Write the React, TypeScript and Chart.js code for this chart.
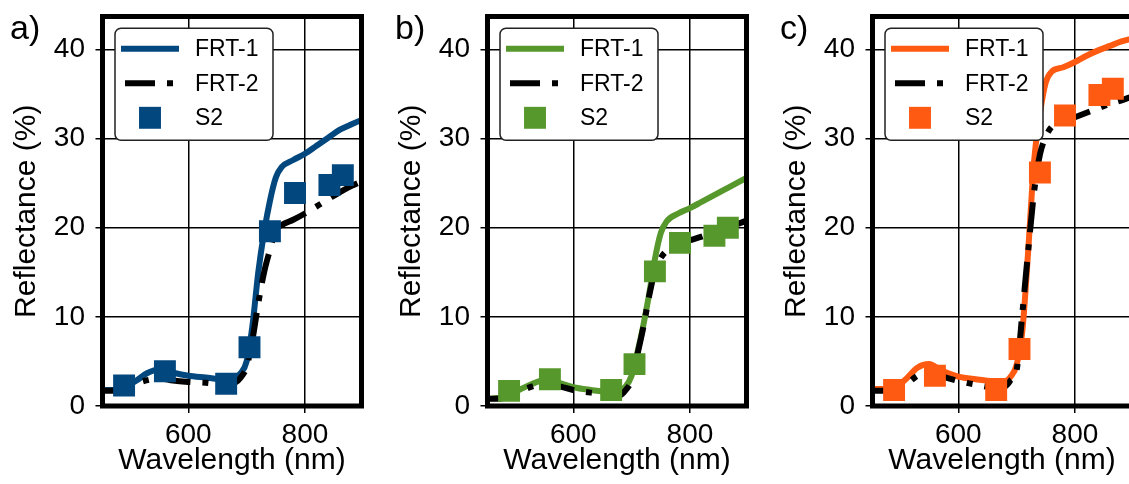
import React, { useEffect, useRef } from 'react';
import { Chart, registerables } from 'chart.js';

Chart.register(...registerables);

// ---------- data ----------
const WAVELENGTH = [453, 470, 490, 510, 530, 550, 570, 600, 630, 660, 680, 690, 700, 710, 720, 730, 740, 750, 760, 780, 800, 820, 840, 860, 880, 897];
const S2_BANDS = [490, 560, 665, 705, 740, 783, 842, 865];

const FRT1_A = [1.8, 1.8, 2.1, 2.8, 3.7, 4.1, 3.8, 3.4, 3.2, 3.0, 3.2, 3.7, 5.0, 9.0, 15.0, 19.5, 23.0, 25.6, 26.8, 27.6, 28.3, 29.2, 30.1, 31.0, 31.6, 32.1];
const FRT2_A = [1.7, 1.7, 2.0, 2.5, 2.9, 3.1, 2.9, 2.7, 2.6, 2.4, 2.6, 3.2, 4.4, 7.4, 11.5, 15.0, 17.5, 19.8, 20.3, 20.9, 21.6, 22.4, 23.2, 24.0, 24.7, 25.2];
const S2_A = [2.3, 3.9, 2.5, 6.6, 19.6, 23.9, 24.8, 25.9];

const FRT1_B = [0.8, 0.9, 1.2, 1.9, 2.5, 2.9, 2.7, 2.1, 1.8, 1.6, 1.7, 2.2, 3.4, 6.0, 9.0, 12.5, 16.5, 19.4, 20.7, 21.6, 22.2, 22.9, 23.6, 24.3, 25.0, 25.6];
const FRT2_B = [0.8, 0.8, 1.1, 1.7, 2.2, 2.5, 2.3, 1.8, 1.5, 1.3, 1.2, 1.8, 2.9, 5.8, 8.8, 12.3, 15.2, 16.6, 17.4, 18.2, 18.6, 19.0, 19.5, 20.0, 20.4, 20.8];
const S2_B = [1.7, 3.0, 1.8, 4.7, 15.1, 18.3, 19.1, 20.0];

const FRT1_C = [1.9, 1.9, 2.0, 3.0, 4.3, 4.7, 4.0, 3.3, 3.0, 2.8, 2.8, 3.3, 4.6, 8.5, 17.5, 27.5, 32.8, 36.3, 37.5, 38.0, 38.6, 39.3, 39.9, 40.4, 40.9, 41.2];
const FRT2_C = [1.7, 1.7, 1.8, 2.4, 3.4, 4.0, 3.4, 2.8, 2.4, 2.1, 2.2, 2.9, 4.0, 10.5, 17.5, 24.0, 28.2, 30.2, 31.3, 31.9, 32.4, 32.9, 33.4, 33.9, 34.3, 34.7];
const S2_C = [1.8, 3.4, 1.8, 6.4, 26.2, 32.6, 34.9, 35.6];

const X_TICKS = [600, 800];
const Y_TICKS = [0, 10, 20, 30, 40];
const SERIES_LABELS = ['FRT-1', 'FRT-2', 'S2'];
const PANEL_LABELS = ['a)', 'b)', 'c)'];
const PANEL_COLORS = ['#03477f', '#57982d', '#ff5a12'];
const X_TITLE = 'Wavelength (nm)';
const Y_TITLE = 'Reflectance (%)';

const PANELS = [
  { frt1: FRT1_A, frt2: FRT2_A, s2: S2_A },
  { frt1: FRT1_B, frt2: FRT2_B, s2: S2_B },
  { frt1: FRT1_C, frt2: FRT2_C, s2: S2_C },
];

const FONT = "'Liberation Sans', Arial, Helvetica, sans-serif";
const CANVAS_W = 385;
const CANVAS_H = 484;

// ---------- plugins ----------
const legendPlugin = {
  id: 'boxLegend',
  afterDatasetsDraw(chart: any) {
    const { ctx, chartArea: ca } = chart;
    const bx = ca.left + 12.5;
    const by = ca.top + 11.8;
    const bw = 158;
    const bh = 112;
    ctx.save();
    ctx.beginPath();
    ctx.roundRect(bx, by, bw, bh, 6);
    ctx.fillStyle = '#ffffff';
    ctx.fill();
    ctx.lineWidth = 1.5;
    ctx.strokeStyle = '#222222';
    ctx.stroke();
    SERIES_LABELS.forEach((lab, i) => {
      const ds: any = chart.data.datasets.find((d: any) => d.label === lab);
      if (!ds) return;
      const cy = by + 20.5 + i * 34.5;
      if (ds.showLine === false) {
        const side = ds.pointRadius * Math.SQRT2;
        ctx.fillStyle = ds.pointBackgroundColor;
        ctx.fillRect(bx + 35 - side / 2, cy - side / 2, side, side);
      } else {
        ctx.beginPath();
        ctx.lineWidth = ds.borderWidth;
        ctx.strokeStyle = ds.borderColor;
        ctx.lineCap = 'butt';
        if (ds.borderDash && ds.borderDash.length) {
          ctx.setLineDash(ds.borderDash);
          ctx.moveTo(bx + 10, cy);
          ctx.lineTo(bx + 58, cy);
        } else {
          ctx.setLineDash([]);
          ctx.moveTo(bx + 6, cy);
          ctx.lineTo(bx + 64, cy);
        }
        ctx.stroke();
        ctx.setLineDash([]);
      }
      ctx.fillStyle = '#000';
      ctx.font = `23px ${FONT}`;
      ctx.textBaseline = 'middle';
      ctx.textAlign = 'left';
      ctx.fillText(ds.label, bx + 80, cy + 1);
    });
    ctx.restore();
  },
};

const framePlugin = {
  id: 'frameAndLabel',
  afterDraw(chart: any, _args: any, opts: any) {
    const { ctx, chartArea: ca } = chart;
    ctx.save();
    ctx.lineWidth = 5;
    ctx.strokeStyle = '#000';
    ctx.strokeRect(ca.left, ca.top, ca.right - ca.left, ca.bottom - ca.top);
    if (opts && opts.text) {
      ctx.fillStyle = '#000';
      ctx.font = `34px ${FONT}`;
      ctx.textBaseline = 'alphabetic';
      ctx.textAlign = 'left';
      ctx.fillText(opts.text, 10, 38.5);
    }
    ctx.restore();
  },
};

// ---------- component ----------
function Panel({ idx }: { idx: number }) {
  const ref = useRef<HTMLCanvasElement>(null);
  useEffect(() => {
    const p = PANELS[idx];
    const color = PANEL_COLORS[idx];
    const chart = new Chart(ref.current as HTMLCanvasElement, {
      type: 'line',
      data: {
        datasets: [
          {
            label: SERIES_LABELS[2],
            data: S2_BANDS.map((x, i) => ({ x, y: p.s2[i] })),
            showLine: false,
            pointStyle: 'rect',
            pointRadius: 15.5,
            pointBorderWidth: 0,
            pointBackgroundColor: color,
            backgroundColor: color,
            borderColor: color,
            order: 0,
          } as any,
          {
            label: SERIES_LABELS[1],
            data: WAVELENGTH.map((x, i) => ({ x, y: p.frt2[i] })),
            borderColor: '#000000',
            borderWidth: 6,
            borderDash: [30, 12, 6, 12],
            borderCapStyle: 'butt',
            pointRadius: 0,
            cubicInterpolationMode: 'monotone',
            fill: false,
            order: 1,
          } as any,
          {
            label: SERIES_LABELS[0],
            data: WAVELENGTH.map((x, i) => ({ x, y: p.frt1[i] })),
            borderColor: color,
            borderWidth: 6,
            pointRadius: 0,
            cubicInterpolationMode: 'monotone',
            fill: false,
            order: 2,
          } as any,
        ],
      },
      options: {
        animation: false,
        responsive: false,
        maintainAspectRatio: false,
        events: [],
        layout: { padding: { left: 0, right: 23.5, top: 16.5, bottom: 0 } },
        plugins: {
          legend: { display: false },
          tooltip: { enabled: false },
          frameAndLabel: { text: PANEL_LABELS[idx] },
        } as any,
        scales: {
          x: {
            type: 'linear',
            min: 453,
            max: 897,
            afterBuildTicks: (s: any) => {
              s.ticks = X_TICKS.map((v) => ({ value: v }));
            },
            afterFit: (s: any) => {
              s.height = 78;
              s.paddingLeft = 0;
              s.paddingRight = 0;
              s.paddingTop = 0;
              s.paddingBottom = 0;
            },
            grid: { color: '#000', lineWidth: 1.5, drawTicks: true, tickLength: 7, tickWidth: 1.5, tickColor: '#000' },
            border: { display: false },
            ticks: { color: '#000', font: { family: FONT, size: 28 }, padding: 5, maxRotation: 0 },
            title: { display: true, text: X_TITLE, color: '#000', font: { family: FONT, size: 30 }, padding: { top: 0, bottom: 5 } },
          },
          y: {
            type: 'linear',
            min: 0,
            max: 43.7,
            afterBuildTicks: (s: any) => {
              s.ticks = Y_TICKS.map((v) => ({ value: v }));
            },
            afterFit: (s: any) => {
              s.width = 102.5;
              s.paddingLeft = 0;
              s.paddingRight = 0;
              s.paddingTop = 0;
              s.paddingBottom = 0;
            },
            grid: { color: '#000', lineWidth: 1.5, drawTicks: true, tickLength: 7, tickWidth: 1.5, tickColor: '#000' },
            border: { display: false },
            ticks: { color: '#000', font: { family: FONT, size: 28 }, padding: 10.5 },
            title: { display: true, text: Y_TITLE, color: '#000', font: { family: FONT, size: 30 }, padding: { top: 8.7, bottom: 0 } },
          },
        },
      } as any,
      plugins: [legendPlugin, framePlugin],
    });
    return () => chart.destroy();
  }, [idx]);
  return (
    <canvas
      ref={ref}
      width={CANVAS_W}
      height={CANVAS_H}
      style={{ display: 'block', width: CANVAS_W, height: CANVAS_H }}
    />
  );
}

export default function App() {
  return (
    <div
      style={{
        position: 'fixed',
        left: 0,
        top: 0,
        width: 1129,
        height: 484,
        overflow: 'hidden',
        background: '#ffffff',
      }}
    >
      {[0, 1, 2].map((i) => (
        <div key={i} style={{ position: 'absolute', left: i * CANVAS_W, top: 0 }}>
          <Panel idx={i} />
        </div>
      ))}
    </div>
  );
}
